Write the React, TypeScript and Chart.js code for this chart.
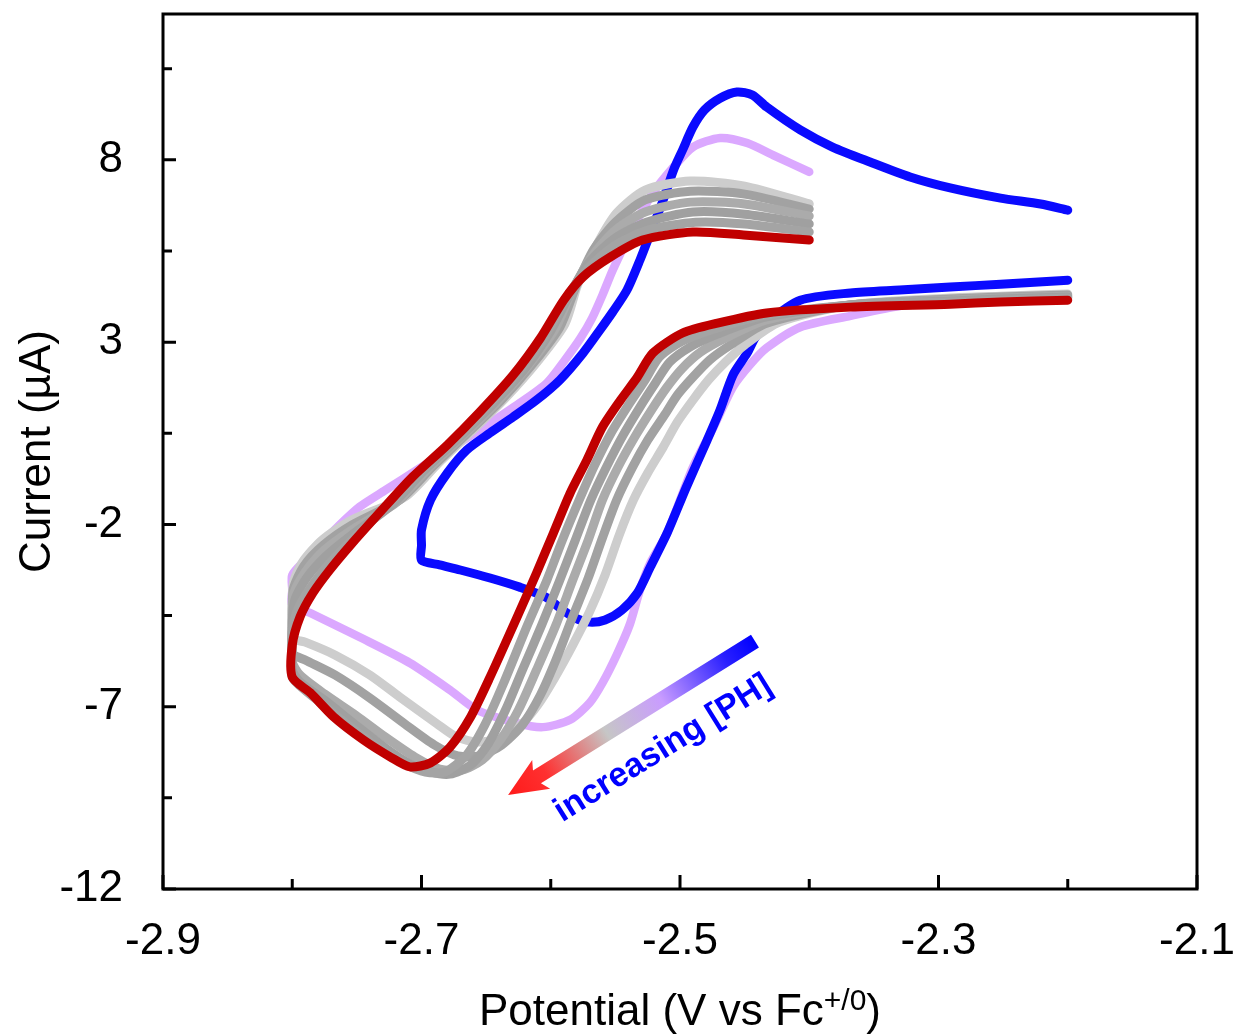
import React, { useEffect, useRef } from "react";
import { Chart, registerables } from "chart.js";

Chart.register(...registerables);

const FONT = '"Liberation Sans", Arial, Helvetica, sans-serif';

// Axis ticks
const xTicks = [-2.9, -2.7, -2.5, -2.3, -2.1];
const xMinorTicks = [-2.8, -2.6, -2.4, -2.2];
const yTicks = [-12, -7, -2, 3, 8];
const yMinorTicks = [-9.5, -4.5, 0.5, 5.5, 10.5];

// Curves: [potential (V vs Fc+/0), current (µA)]
const bluePoints = [
  [-2.2, 4.7], [-2.252, 4.59], [-2.291, 4.51], [-2.33, 4.43], [-2.368, 4.35], [-2.407, 4.15],
  [-2.433, 3.52], [-2.442, 3.11], [-2.448, 2.7], [-2.459, 2.1], [-2.469, 1.14], [-2.479, 0.31],
  [-2.495, -0.97], [-2.51, -2.24], [-2.523, -3.17], [-2.533, -3.88], [-2.545, -4.35], [-2.558, -4.62],
  [-2.57, -4.68], [-2.581, -4.57], [-2.593, -4.29], [-2.604, -3.99], [-2.624, -3.72], [-2.647, -3.47],
  [-2.67, -3.25], [-2.686, -3.11], [-2.7, -2.98], [-2.7, -2.57], [-2.7, -2.15], [-2.693, -1.33],
  [-2.68, -0.59], [-2.665, 0.04], [-2.647, 0.51], [-2.629, 0.95], [-2.611, 1.41], [-2.593, 1.96],
  [-2.575, 2.7], [-2.562, 3.33], [-2.552, 3.83], [-2.541, 4.43], [-2.531, 5.25], [-2.522, 6.07],
  [-2.513, 6.9], [-2.505, 7.72], [-2.498, 8.27], [-2.49, 8.9], [-2.481, 9.37], [-2.469, 9.69],
  [-2.456, 9.86], [-2.444, 9.78], [-2.433, 9.45], [-2.407, 8.82], [-2.382, 8.35], [-2.353, 7.94],
  [-2.322, 7.53], [-2.291, 7.23], [-2.252, 6.95], [-2.221, 6.79], [-2.2, 6.62],
];

const pinkPoints = [
  [-2.2, 4.24], [-2.252, 4.18], [-2.291, 4.1], [-2.33, 3.99], [-2.368, 3.72], [-2.407, 3.41],
  [-2.433, 2.84], [-2.446, 2.37], [-2.459, 1.77], [-2.474, 0.67], [-2.49, -0.43], [-2.51, -2.24],
  [-2.523, -3.06], [-2.531, -3.8], [-2.539, -4.76], [-2.549, -5.58], [-2.56, -6.35], [-2.57, -6.9],
  [-2.585, -7.36], [-2.606, -7.56], [-2.626, -7.45], [-2.657, -7.09], [-2.678, -6.54], [-2.709, -5.8],
  [-2.748, -5.09], [-2.786, -4.43], [-2.8, -4.21], [-2.8, -3.8], [-2.8, -3.39], [-2.79, -2.98],
  [-2.779, -2.57], [-2.765, -2.07], [-2.748, -1.52], [-2.728, -1.06], [-2.701, -0.45], [-2.673, 0.18],
  [-2.647, 0.78], [-2.624, 1.33], [-2.603, 1.88], [-2.589, 2.51], [-2.577, 3.11], [-2.568, 3.66],
  [-2.56, 4.29], [-2.552, 4.98], [-2.536, 6.16], [-2.521, 7.09], [-2.505, 7.8], [-2.49, 8.35],
  [-2.469, 8.6], [-2.448, 8.46], [-2.428, 8.13], [-2.4, 7.67],
];

const redPoints = [
  [-2.2, 4.15], [-2.252, 4.1], [-2.291, 4.04], [-2.368, 3.96], [-2.433, 3.8], [-2.471, 3.52],
  [-2.498, 3.25], [-2.521, 2.7], [-2.533, 2.04], [-2.546, 1.41], [-2.56, 0.67], [-2.572, -0.23],
  [-2.585, -1.14], [-2.598, -2.24], [-2.611, -3.33], [-2.626, -4.54], [-2.647, -6.19], [-2.662, -7.28],
  [-2.678, -8.11], [-2.693, -8.54], [-2.709, -8.65], [-2.724, -8.38], [-2.745, -7.91], [-2.768, -7.28],
  [-2.786, -6.62], [-2.8, -6.19], [-2.8, -5.31], [-2.794, -4.54], [-2.784, -3.88], [-2.771, -3.25],
  [-2.755, -2.57], [-2.732, -1.66], [-2.707, -0.7], [-2.68, 0.18], [-2.655, 1.08], [-2.629, 2.1],
  [-2.608, 3.11], [-2.59, 4.15], [-2.575, 4.79], [-2.554, 5.33], [-2.529, 5.8], [-2.49, 6.02],
  [-2.451, 5.94], [-2.4, 5.8],
];

const grey1Points = [
  [-2.2, 4.21], [-2.252, 4.15], [-2.291, 4.1], [-2.368, 4.02], [-2.433, 3.74], [-2.471, 3.39],
  [-2.498, 3.03], [-2.516, 2.59], [-2.527, 1.96], [-2.54, 1.27], [-2.553, 0.53], [-2.566, -0.37],
  [-2.578, -1.33], [-2.591, -2.43], [-2.603, -3.53], [-2.618, -4.76], [-2.637, -6.4], [-2.651, -7.5],
  [-2.665, -8.32], [-2.682, -8.79], [-2.697, -8.79], [-2.713, -8.57], [-2.732, -8.16], [-2.755, -7.56],
  [-2.779, -6.87], [-2.794, -6.43], [-2.8, -6.19], [-2.8, -5.58], [-2.8, -4.95], [-2.796, -4.35],
  [-2.786, -3.74], [-2.771, -3.06], [-2.754, -2.43], [-2.728, -1.55], [-2.703, -0.62], [-2.676, 0.26],
  [-2.651, 1.17], [-2.625, 2.18], [-2.604, 3.19], [-2.588, 4.21], [-2.571, 5.03], [-2.55, 5.66],
  [-2.525, 6.07], [-2.488, 6.29], [-2.45, 6.24], [-2.4, 6.02],
];

const grey2Points = [
  [-2.2, 4.24], [-2.252, 4.18], [-2.291, 4.13], [-2.368, 4.02], [-2.433, 3.69], [-2.471, 3.22],
  [-2.492, 2.87], [-2.508, 2.45], [-2.519, 1.88], [-2.531, 1.22], [-2.544, 0.45], [-2.557, -0.43],
  [-2.569, -1.33], [-2.581, -2.43], [-2.593, -3.53], [-2.607, -4.76], [-2.622, -6.0], [-2.635, -7.09],
  [-2.649, -8.05], [-2.662, -8.6], [-2.678, -8.85], [-2.693, -8.79], [-2.709, -8.57], [-2.728, -8.13],
  [-2.751, -7.5], [-2.775, -6.82], [-2.794, -6.32], [-2.8, -5.99], [-2.8, -5.31], [-2.8, -4.68],
  [-2.798, -4.07], [-2.789, -3.47], [-2.773, -2.84], [-2.754, -2.29], [-2.724, -1.5], [-2.699, -0.56],
  [-2.673, 0.31], [-2.647, 1.22], [-2.621, 2.23], [-2.601, 3.25], [-2.586, 4.26], [-2.57, 5.2],
  [-2.55, 5.86], [-2.526, 6.29], [-2.49, 6.57], [-2.45, 6.51], [-2.4, 6.24],
];

const grey3Points = [
  [-2.2, 4.26], [-2.252, 4.21], [-2.291, 4.15], [-2.368, 4.02], [-2.433, 3.61], [-2.465, 3.11],
  [-2.484, 2.73], [-2.498, 2.29], [-2.51, 1.77], [-2.522, 1.14], [-2.535, 0.4], [-2.548, -0.43],
  [-2.56, -1.33], [-2.571, -2.43], [-2.583, -3.53], [-2.596, -4.76], [-2.611, -5.99], [-2.625, -7.09],
  [-2.639, -7.91], [-2.653, -8.46], [-2.669, -8.74], [-2.686, -8.71], [-2.705, -8.38], [-2.728, -7.83],
  [-2.751, -7.23], [-2.775, -6.65], [-2.794, -6.13], [-2.8, -5.77], [-2.8, -5.09], [-2.8, -4.49],
  [-2.799, -3.91], [-2.79, -3.31], [-2.775, -2.7], [-2.754, -2.15], [-2.72, -1.41], [-2.695, -0.48],
  [-2.669, 0.4], [-2.643, 1.3], [-2.618, 2.32], [-2.597, 3.33], [-2.584, 4.37], [-2.568, 5.36],
  [-2.55, 6.07], [-2.527, 6.57], [-2.492, 6.84], [-2.45, 6.79], [-2.4, 6.46],
];

const grey4Points = [
  [-2.2, 4.29], [-2.252, 4.24], [-2.291, 4.18], [-2.368, 4.02], [-2.433, 3.52], [-2.461, 2.92],
  [-2.477, 2.51], [-2.49, 2.04], [-2.502, 1.55], [-2.512, 1.0], [-2.525, 0.31], [-2.537, -0.45],
  [-2.549, -1.33], [-2.56, -2.37], [-2.571, -3.47], [-2.584, -4.62], [-2.596, -5.72], [-2.608, -6.68],
  [-2.622, -7.5], [-2.638, -8.05], [-2.655, -8.35], [-2.672, -8.35], [-2.69, -8.05], [-2.713, -7.47],
  [-2.74, -6.76], [-2.767, -6.13], [-2.79, -5.72], [-2.8, -5.53], [-2.8, -4.9], [-2.8, -4.29],
  [-2.799, -3.74], [-2.791, -3.14], [-2.776, -2.57], [-2.754, -2.02], [-2.717, -1.33], [-2.691, -0.4],
  [-2.665, 0.48], [-2.639, 1.38], [-2.614, 2.4], [-2.593, 3.41], [-2.581, 4.48], [-2.567, 5.53],
  [-2.55, 6.29], [-2.527, 6.9], [-2.492, 7.14], [-2.45, 7.06], [-2.4, 6.65],
];

const grey5Points = [
  [-2.2, 4.32], [-2.252, 4.26], [-2.291, 4.21], [-2.368, 4.02], [-2.423, 3.55], [-2.45, 2.92],
  [-2.465, 2.45], [-2.478, 1.96], [-2.49, 1.41], [-2.502, 0.81], [-2.513, 0.12], [-2.525, -0.59],
  [-2.536, -1.33], [-2.547, -2.29], [-2.558, -3.39], [-2.57, -4.4], [-2.583, -5.31], [-2.597, -6.21],
  [-2.61, -6.95], [-2.624, -7.53], [-2.639, -7.86], [-2.656, -7.97], [-2.673, -7.83], [-2.688, -7.47],
  [-2.717, -6.73], [-2.74, -6.13], [-2.767, -5.58], [-2.79, -5.23], [-2.8, -5.12], [-2.8, -4.76],
  [-2.8, -4.13], [-2.799, -3.58], [-2.792, -3.03], [-2.777, -2.43], [-2.754, -1.88], [-2.713, -1.25],
  [-2.687, -0.32], [-2.661, 0.56], [-2.635, 1.47], [-2.61, 2.48], [-2.589, 3.5], [-2.579, 4.59],
  [-2.564, 5.69], [-2.549, 6.54], [-2.527, 7.17], [-2.492, 7.42], [-2.45, 7.28], [-2.4, 6.79],
];

// Annotation arrow (data coordinates)
const arrowTail = [-2.442, -5.2];
const arrowTip = [-2.633, -9.42];
const arrowLabelPos = [-2.513, -8.15];
const arrowLabel = "increasing [PH]";

const xTitleMain = "Potential (V vs Fc";
const xTitleSup = "+/0";
const xTitleEnd = ")";
const yTitle = "Current (\u00B5A)";

const toXY = (pts: number[][]) => pts.map(([x, y]) => ({ x, y }));

const line = (pts: number[][], color: string, width: number) => ({
  data: toXY(pts),
  showLine: true,
  borderColor: color,
  backgroundColor: color,
  borderWidth: width,
  pointRadius: 0,
  pointHoverRadius: 0,
  tension: 0.25,
  fill: false,
  borderJoinStyle: "round" as const,
  borderCapStyle: "round" as const,
});

const decorPlugin = {
  id: "decor",
  afterDatasetsDraw(chart: any) {
    const { ctx, scales } = chart;
    const xs = scales.x;
    const ys = scales.y;
    const x0 = xs.getPixelForValue(arrowTail[0]);
    const y0 = ys.getPixelForValue(arrowTail[1]);
    const x1 = xs.getPixelForValue(arrowTip[0]);
    const y1 = ys.getPixelForValue(arrowTip[1]);
    const ang = Math.atan2(y1 - y0, x1 - x0);
    const len = Math.hypot(x1 - x0, y1 - y0);
    ctx.save();
    ctx.translate(x0, y0);
    ctx.rotate(ang);
    const g = ctx.createLinearGradient(0, 0, len, 0);
    g.addColorStop(0, "#0000ff");
    g.addColorStop(0.12, "#2a20ff");
    g.addColorStop(0.38, "#c99cff");
    g.addColorStop(0.6, "#c6c6c6");
    g.addColorStop(0.85, "#ff3030");
    g.addColorStop(1, "#ff1a1a");
    ctx.fillStyle = g;
    const sw = 7.5;
    const hl = 34;
    const hw = 17;
    ctx.beginPath();
    ctx.moveTo(0, -sw);
    ctx.lineTo(len - hl, -sw);
    ctx.lineTo(len - hl - 5, -hw);
    ctx.lineTo(len, 0);
    ctx.lineTo(len - hl - 5, hw);
    ctx.lineTo(len - hl, sw);
    ctx.lineTo(0, sw);
    ctx.closePath();
    ctx.fill();
    ctx.restore();

    const lx = xs.getPixelForValue(arrowLabelPos[0]);
    const ly = ys.getPixelForValue(arrowLabelPos[1]);
    ctx.save();
    ctx.translate(lx, ly);
    ctx.rotate(ang + Math.PI);
    ctx.font = `bold 34px ${FONT}`;
    ctx.fillStyle = "#0000ff";
    ctx.textAlign = "center";
    ctx.textBaseline = "middle";
    ctx.fillText(arrowLabel, 0, 0);
    ctx.restore();
  },
  afterDraw(chart: any) {
    const { ctx, chartArea, scales } = chart;
    const { left, right, top, bottom } = chartArea;
    const xs = scales.x;
    const ys = scales.y;
    ctx.save();
    ctx.strokeStyle = "#000";
    ctx.lineWidth = 3;
    ctx.lineCap = "butt";
    ctx.strokeRect(left, top, right - left, bottom - top);
    ctx.beginPath();
    yTicks.forEach((v) => {
      const p = ys.getPixelForValue(v);
      ctx.moveTo(left, p);
      ctx.lineTo(left + 13, p);
    });
    yMinorTicks.forEach((v) => {
      const p = ys.getPixelForValue(v);
      ctx.moveTo(left, p);
      ctx.lineTo(left + 9, p);
    });
    xTicks.forEach((v) => {
      const p = xs.getPixelForValue(v);
      ctx.moveTo(p, bottom);
      ctx.lineTo(p, bottom - 14);
    });
    xMinorTicks.forEach((v) => {
      const p = xs.getPixelForValue(v);
      ctx.moveTo(p, bottom);
      ctx.lineTo(p, bottom - 10);
    });
    ctx.stroke();

    // axis titles
    ctx.fillStyle = "#000";
    ctx.textBaseline = "alphabetic";
    ctx.font = `44px ${FONT}`;
    const wMain = ctx.measureText(xTitleMain).width;
    const wEnd = ctx.measureText(xTitleEnd).width;
    ctx.font = `30px ${FONT}`;
    const wSup = ctx.measureText(xTitleSup).width;
    const total = wMain + wSup + wEnd;
    const cx = (left + right) / 2;
    let sx = cx - total / 2;
    const base = chart.height - 11;
    ctx.textAlign = "left";
    ctx.font = `44px ${FONT}`;
    ctx.fillText(xTitleMain, sx, base);
    sx += wMain;
    ctx.font = `30px ${FONT}`;
    ctx.fillText(xTitleSup, sx, base - 15);
    sx += wSup;
    ctx.font = `44px ${FONT}`;
    ctx.fillText(xTitleEnd, sx, base);

    ctx.save();
    ctx.translate(50, (top + bottom) / 2);
    ctx.rotate(-Math.PI / 2);
    ctx.textAlign = "center";
    ctx.font = `44px ${FONT}`;
    ctx.fillText(yTitle, 0, 0);
    ctx.restore();
    ctx.restore();
  },
};

export default function App() {
  const ref = useRef<HTMLCanvasElement>(null);
  useEffect(() => {
    const canvas = ref.current;
    if (!canvas) return;
    const chart = new Chart(canvas, {
      type: "scatter",
      data: {
        datasets: [
          line(redPoints, "#c00000", 9),
          line(grey1Points, "#a4a4a4", 9),
          line(grey2Points, "#a0a0a0", 9),
          line(grey3Points, "#ababab", 9),
          line(grey4Points, "#a2a2a2", 9),
          line(grey5Points, "#cdcdcd", 9),
          line(bluePoints, "#0a0aff", 9),
          line(pinkPoints, "#dba8ff", 8.5),
        ] as any,
      },
      options: {
        responsive: false,
        animation: false,
        events: [],
        layout: { padding: { left: 0, right: 38, top: 14, bottom: 0 } },
        plugins: { legend: { display: false }, tooltip: { enabled: false } },
        scales: {
          x: {
            type: "linear",
            min: -2.9,
            max: -2.1,
            afterBuildTicks: (s: any) => {
              s.ticks = xTicks.map((v) => ({ value: v }));
            },
            afterFit: (s: any) => {
              s.height = 147;
              s.paddingLeft = 0;
              s.paddingRight = 0;
            },
            grid: { display: false, drawTicks: false },
            border: { display: false },
            ticks: {
              autoSkip: false,
              maxRotation: 0,
              padding: 26,
              color: "#000",
              font: { size: 44, family: FONT },
              callback: (v: any) => Number(v).toFixed(1),
            },
          },
          y: {
            type: "linear",
            min: -12,
            max: 12,
            afterBuildTicks: (s: any) => {
              s.ticks = yTicks.map((v) => ({ value: v }));
            },
            afterFit: (s: any) => {
              s.width = 163;
              s.paddingTop = 0;
              s.paddingBottom = 0;
            },
            grid: { display: false, drawTicks: false },
            border: { display: false },
            ticks: {
              autoSkip: false,
              padding: 40,
              color: "#000",
              font: { size: 44, family: FONT },
              callback: (v: any) => String(v),
            },
          },
        },
      },
      plugins: [decorPlugin],
    });
    return () => chart.destroy();
  }, []);
  return (
    <div style={{ position: "absolute", left: 0, top: 0, width: 1235, height: 1036, background: "#fff" }}>
      <canvas ref={ref} width={1235} height={1036} style={{ display: "block" }} />
    </div>
  );
}
